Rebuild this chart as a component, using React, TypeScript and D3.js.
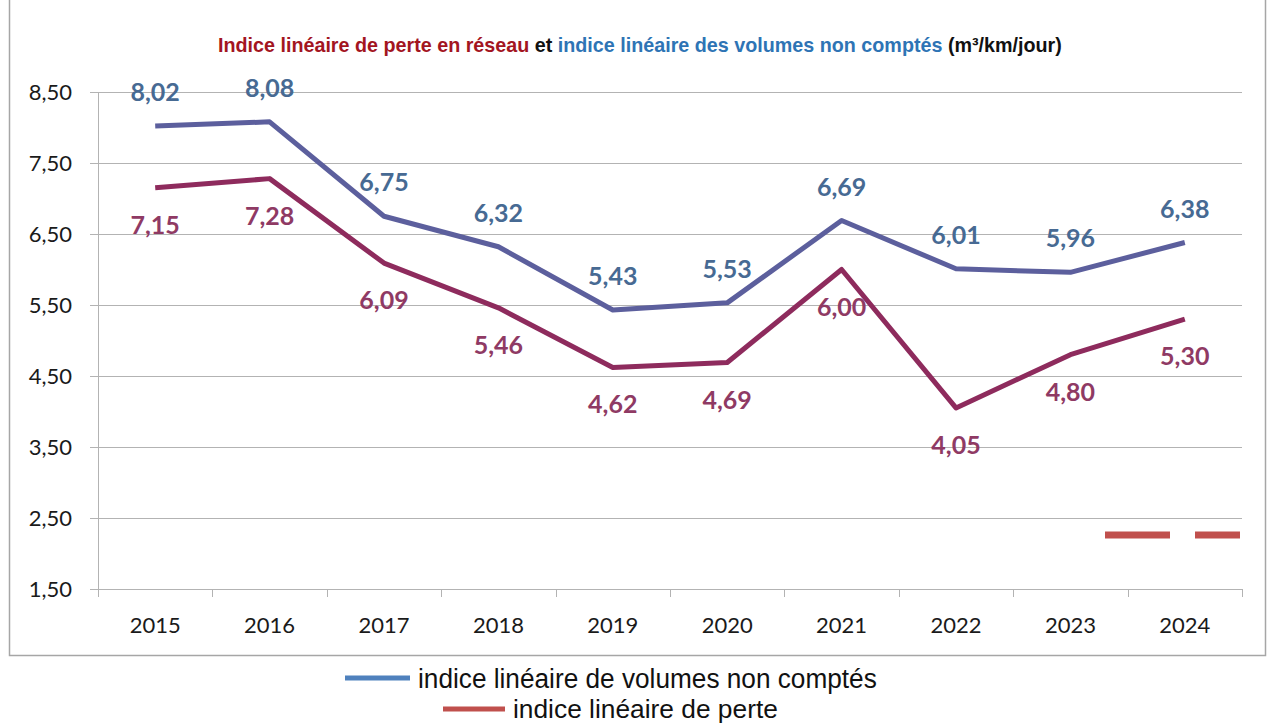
import React, { useEffect, useRef } from 'react';
import * as d3 from 'd3';

const years: string[] = ['2015', '2016', '2017', '2018', '2019', '2020', '2021', '2022', '2023', '2024'];
const volumesNonComptes: number[] = [8.02, 8.08, 6.75, 6.32, 5.43, 5.53, 6.69, 6.01, 5.96, 6.38];
const perte: number[] = [7.15, 7.28, 6.09, 5.46, 4.62, 4.69, 6.0, 4.05, 4.8, 5.3];
const yTicks: number[] = [1.5, 2.5, 3.5, 4.5, 5.5, 6.5, 7.5, 8.5];
const legendLabels: string[] = ['indice linéaire de volumes non comptés', 'indice linéaire de perte'];

const fmt = (v: number) => v.toFixed(2).replace('.', ',');

// squeeze a text horizontally to a given width, keeping its left edge
const fitWidth = (sel: d3.Selection<SVGTextElement, unknown, null, undefined>, w: number, anchorX: number) => {
    const node = sel.node();
    if (!node) return;
    const len = node.getComputedTextLength();
    if (!len) return;
    const k = w / len;
    sel.attr('transform', `translate(${anchorX},0) scale(${k},1) translate(${-anchorX},0)`);
};

const App: React.FC = () => {
    const chartRef = useRef<SVGSVGElement | null>(null);

    useEffect(() => {
        if (!chartRef.current) return;
        const svg = d3.select(chartRef.current);
        svg.selectAll('*').remove();

        const margin = { top: 92, right: 28, bottom: 137, left: 98 };
        const width = 1270;
        const height = 726;
        const innerWidth = width - margin.left - margin.right;
        const innerHeight = height - margin.top - margin.bottom;
        const grid = '#b3b3b3';
        const axisFont = 'Lato, Carlito, "Open Sans", sans-serif';
        const narrow = '"Liberation Sans Narrow", "Arial Narrow", "Liberation Sans", sans-serif';

        // outer frame
        svg.append('path')
            .attr('d', `M9.5,0 V655.5 H1265.5 V0`)
            .attr('fill', 'none')
            .attr('stroke', '#a6a6a6')
            .attr('stroke-width', 1.5);

        const x = d3.scaleBand().domain(years).range([0, innerWidth]);
        const y = d3.scaleLinear().domain([1.5, 8.5]).range([innerHeight, 0]);

        const g = svg.append('g').attr('transform', `translate(${margin.left}, ${margin.top})`);

        // gridlines
        g.selectAll('.grid')
            .data(yTicks)
            .enter()
            .append('line')
            .attr('x1', -8)
            .attr('x2', innerWidth)
            .attr('y1', (d) => Math.round(y(d)) + 0.5)
            .attr('y2', (d) => Math.round(y(d)) + 0.5)
            .attr('stroke', grid)
            .attr('stroke-width', 1);

        g.selectAll('.ylab')
            .data(yTicks)
            .enter()
            .append('text')
            .attr('x', -26)
            .attr('y', (d) => y(d))
            .attr('dy', '0.35em')
            .attr('text-anchor', 'end')
            .style('font-family', axisFont)
            .style('font-size', '22px')
            .style('fill', '#1a1a1a')
            .text((d) => fmt(d));

        // y axis line
        g.append('line')
            .attr('x1', 0.5).attr('x2', 0.5)
            .attr('y1', 0).attr('y2', innerHeight + 8)
            .attr('stroke', grid);

        // x ticks
        const tickPos = years.map((yr) => x(yr) as number).concat([innerWidth]);
        g.selectAll('.xtick')
            .data(tickPos)
            .enter()
            .append('line')
            .attr('x1', (d) => Math.round(d) + 0.5)
            .attr('x2', (d) => Math.round(d) + 0.5)
            .attr('y1', innerHeight)
            .attr('y2', innerHeight + 8)
            .attr('stroke', grid);

        g.selectAll('.xlab')
            .data(years)
            .enter()
            .append('text')
            .attr('x', (d) => (x(d) as number) + x.bandwidth() / 2)
            .attr('y', innerHeight + 44)
            .attr('text-anchor', 'middle')
            .style('font-family', axisFont)
            .style('font-size', '22px')
            .style('fill', '#1a1a1a')
            .text((d) => d);

        const cx = (i: number) => (x(years[i]) as number) + x.bandwidth() / 2;
        const line = d3.line<number>()
            .x((_, i) => cx(i))
            .y((d) => y(d));

        const series = [
            { values: volumesNonComptes, stroke: '#5c5f9d', label: '#476a93', dy: -25 },
            { values: perte, stroke: '#8e2b5d', label: '#8f3a64', dy: 46 },
        ];

        series.forEach((s) => {
            g.append('path')
                .datum(s.values)
                .attr('d', line)
                .attr('fill', 'none')
                .attr('stroke', s.stroke)
                .attr('stroke-width', 5)
                .attr('stroke-linejoin', 'round');

            g.selectAll(null)
                .data(s.values)
                .enter()
                .append('text')
                .attr('x', (_, i) => cx(i))
                .attr('y', (d) => y(d) + s.dy)
                .attr('text-anchor', 'middle')
                .style('font-family', axisFont)
                .style('font-size', '25px')
                .style('font-weight', 'bold')
                .style('fill', s.label)
                .text((d) => fmt(d));
        });

        // stray legend marks inside plot
        [[1105, 1170], [1195, 1240]].forEach(([a, b]) => {
            svg.append('line')
                .attr('x1', a).attr('x2', b)
                .attr('y1', 535).attr('y2', 535)
                .attr('stroke', '#c0504d')
                .attr('stroke-width', 7);
        });

        // title
        const title = svg.append('text')
            .attr('x', 218)
            .attr('y', 52)
            .style('font-family', narrow)
            .style('font-size', '20px')
            .style('font-weight', 'bold');
        title.append('tspan').style('fill', '#a3151f').text('Indice linéaire de perte en réseau');
        title.append('tspan').style('fill', '#111').text(' et ');
        title.append('tspan').style('fill', '#2e74b5').text('indice linéaire des volumes non comptés');
        title.append('tspan').style('fill', '#111').text(' (m³/km/jour)');
        fitWidth(title, 844, 218);

        // legend
        const legend = [
            { x1: 345, x2: 410, y: 678, color: '#4f81bd', tx: 418, w: 459, fs: 28 },
            { x1: 443, x2: 505, y: 709, color: '#c0504d', tx: 513, w: 265, fs: 26 },
        ];
        legend.forEach((l, i) => {
            svg.append('line')
                .attr('x1', l.x1).attr('x2', l.x2)
                .attr('y1', l.y).attr('y2', l.y)
                .attr('stroke', l.color)
                .attr('stroke-width', 5);
            const t = svg.append('text')
                .attr('x', l.tx)
                .attr('y', l.y)
                .attr('dy', '0.35em')
                .style('font-family', narrow)
                .style('font-size', `${l.fs}px`)
                .style('fill', '#111')
                .text(legendLabels[i]);
            fitWidth(t, l.w, l.tx);
        });
    }, []);

    return (
        <svg ref={chartRef} width={1270} height={726} style={{ position: 'absolute', left: 0, top: 0, background: '#fff' }} />
    );
};

export default App;
